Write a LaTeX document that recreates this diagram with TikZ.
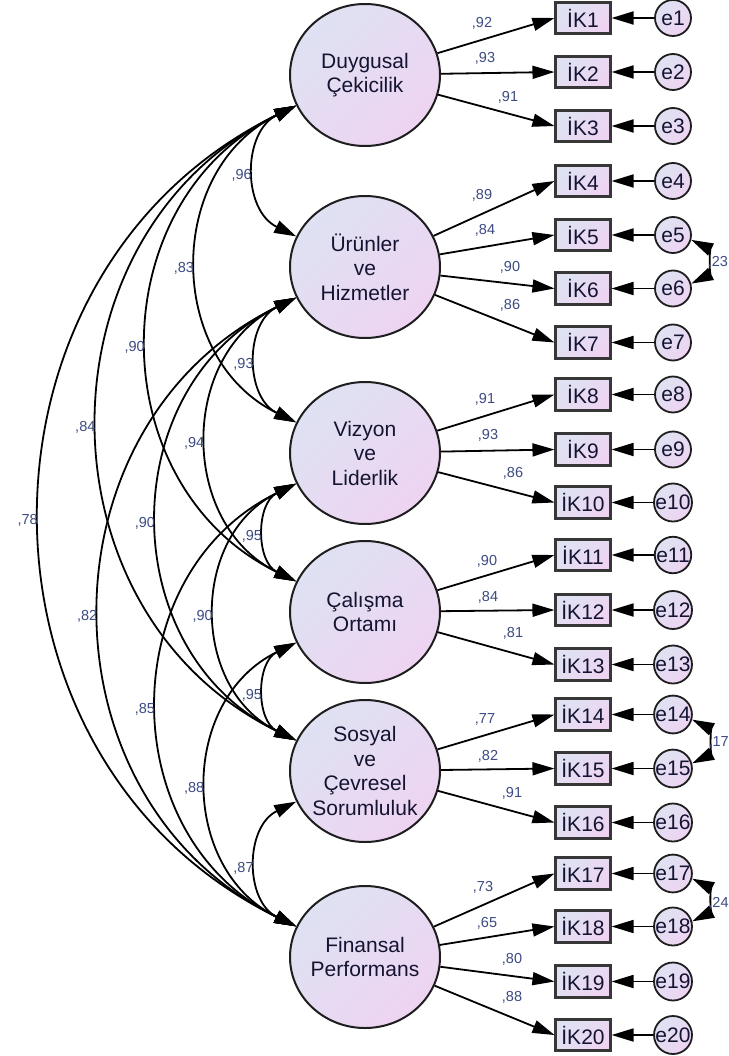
\documentclass[tikz,border=0pt]{standalone}
\usepackage{fontspec}
\setmainfont{Liberation Sans}
\usetikzlibrary{arrows.meta,shapes.geometric}
\definecolor{fillA}{RGB}{222,226,242}
\definecolor{fillB}{RGB}{238,212,242}
\definecolor{txt}{RGB}{20,20,50}
\definecolor{lab}{RGB}{60,75,130}
\definecolor{edge}{RGB}{30,30,30}
\definecolor{boxedge}{RGB}{55,55,55}
\begin{document}
\begin{tikzpicture}[x=1pt,y=1pt,
  >={Triangle[length=22pt,width=13pt]},
  latent/.style={ellipse, draw=edge, line width=2pt, minimum width=150pt, minimum height=142pt, inner sep=0pt,
    top color=fillA, bottom color=fillB, shading angle=45},
  ltext/.style={text=txt, font=\fontsize{21}{24.5}\selectfont, align=center, inner sep=0pt},
  ind/.style={rectangle, draw=boxedge, line width=2.6pt, minimum width=54.5pt, minimum height=31.5pt, inner sep=0pt,
    top color=fillA, bottom color=fillB, shading angle=45, text=txt, font=\fontsize{21}{24}\selectfont},
  err/.style={circle, draw=edge, line width=1.8pt, minimum size=36pt, inner sep=0pt,
    top color=fillA, bottom color=fillB, shading angle=45, text=txt, font=\fontsize{21}{24}\selectfont},
  lbl/.style={text=lab, font=\fontsize{14.5}{16}\selectfont, inner sep=0pt},
  load/.style={line width=1.8pt, ->},
  cov/.style={line width=1.8pt, <->},
]
\useasboundingbox[fill=white] (0,0) rectangle (728,-1056);

% latent variables
\node[latent] (duy) at (365,-75) {};
\node[latent] (uru) at (365,-267) {};
\node[latent] (viz) at (365,-453) {};
\node[latent] (cal) at (365,-612) {};
\node[latent] (sos) at (365,-771) {};
\node[latent] (fin) at (365,-957) {};
\node[ltext] (tduy) at (duy) {Duygusal\\Çekicilik};
\node[ltext] (turu) at (uru) {Ürünler\\ve\\Hizmetler};
\node[ltext] (tviz) at (viz) {Vizyon\\ve\\Liderlik};
\node[ltext] (tcal) at (cal) {Çalışma\\Ortamı};
\node[ltext] (tsos) at (sos) {Sosyal\\ve\\Çevresel\\Sorumluluk};
\node[ltext] (tfin) at (fin) {Finansal\\Performans};

% indicators and errors
\foreach \i/\y in {1/18,2/72,3/126,4/181,5/235,6/288.5,7/342.5,8/394.5,9/449.5,10/502.5,
                   11/555,12/610,13/664.5,14/714.5,15/768.5,16/822.5,17/873.5,18/926.5,19/981.5,20/1035}{
  \node[ind] (ik\i) at (583,-\y) {İK\i};
  \node[err] (e\i) at (673,-\y) {e\i};
  \draw[load] (e\i) -- (ik\i);
}

% loadings
\foreach \l/\i/\v/\lx/\ly in {duy/1/92/482/23, duy/2/93/485/58, duy/3/91/508/97,
  uru/4/89/482/195, uru/5/84/485/230, uru/6/90/510/267, uru/7/86/510/305,
  viz/8/91/485/399, viz/9/93/488/435, viz/10/86/513/473,
  cal/11/90/487/561, cal/12/84/488/597, cal/13/81/513/633,
  sos/14/77/485/719, sos/15/82/488/756, sos/16/91/512/793,
  fin/17/73/483/887, fin/18/65/487/923, fin/19/80/512/959, fin/20/88/512/997}{
  \draw[load] (\l) -- (ik\i.west);
  \node[lbl] (ll\i) at (\lx,-\ly) {,\v};
}

% latent covariances
\foreach \a/\b/\v in {duy/uru/96, duy/viz/83, duy/cal/90, duy/sos/84, duy/fin/78,
  uru/viz/93, uru/cal/94, uru/sos/90, uru/fin/82,
  viz/cal/95, viz/sos/90, viz/fin/85,
  cal/sos/95, cal/fin/88, sos/fin/87}{
  \draw[cov] (\a.204) to[out=206,in=154,looseness=1.18]
     node[lbl,xshift=-14pt,yshift=-4pt] (c\a\b) {,\v} (\b.156);
}

% error covariances
\draw[cov] (e5.-15) to[out=-26,in=26,looseness=1.18] node[lbl,xshift=13pt,yshift=-1pt] (c56) {,23} (e6.15);
\draw[cov] (e14.-15) to[out=-26,in=26,looseness=1.18] node[lbl,xshift=13pt,yshift=-1pt] (c1415) {,17} (e15.15);
\draw[cov] (e17.-15) to[out=-26,in=26,looseness=1.18] node[lbl,xshift=13pt,yshift=-3pt] (c1718) {,24} (e18.15);
\end{tikzpicture}
\end{document}
